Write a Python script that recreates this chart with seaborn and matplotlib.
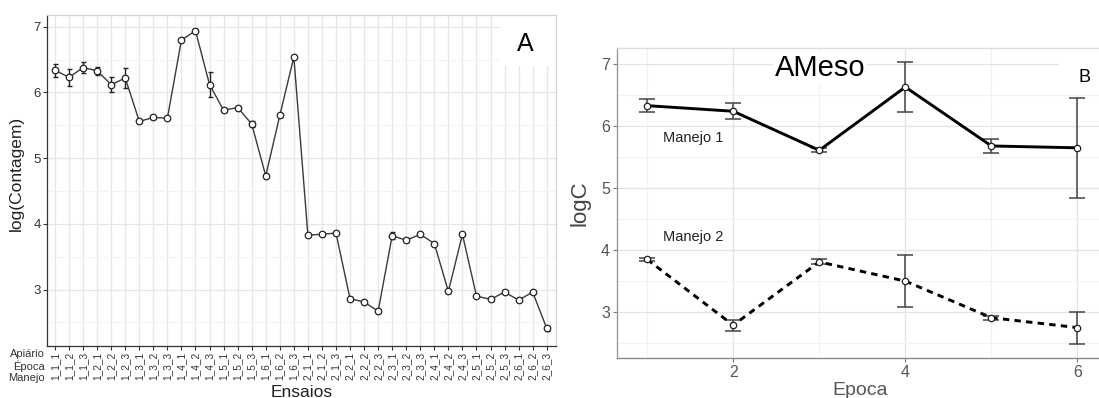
import numpy as np
import pandas as pd
import matplotlib
matplotlib.use("Agg")
import matplotlib.pyplot as plt
from matplotlib.patches import Rectangle
from matplotlib.ticker import MultipleLocator, FixedLocator
import seaborn as sns

# ---- Panel A: counts per trial (Apiário_Época_Manejo) ----
ensaios = [
    "1_1_1", "1_1_2", "1_1_3", "1_2_1", "1_2_2", "1_2_3",
    "1_3_1", "1_3_2", "1_3_3", "1_4_1", "1_4_2", "1_4_3",
    "1_5_1", "1_5_2", "1_5_3", "1_6_1", "1_6_2", "1_6_3",
    "2_1_1", "2_1_2", "2_1_3", "2_2_1", "2_2_2", "2_2_3",
    "2_3_1", "2_3_2", "2_3_3", "2_4_1", "2_4_2", "2_4_3",
    "2_5_1", "2_5_2", "2_5_3", "2_6_1", "2_6_2", "2_6_3",
]
log_contagem = [
    6.34, 6.23, 6.38, 6.33, 6.12, 6.22,
    5.56, 5.62, 5.61, 6.80, 6.94, 6.12,
    5.73, 5.77, 5.52, 4.73, 5.65, 6.54,
    3.83, 3.84, 3.86, 2.86, 2.81, 2.67,
    3.82, 3.75, 3.84, 3.70, 2.97, 3.84,
    2.90, 2.85, 2.96, 2.84, 2.96, 2.41,
]
erro_contagem = [
    0.10, 0.13, 0.09, 0.06, 0.12, 0.15,
    0.02, 0.02, 0.02, 0.02, 0.02, 0.19,
    0.02, 0.02, 0.04, 0.02, 0.03, 0.02,
    0.02, 0.02, 0.02, 0.02, 0.02, 0.02,
    0.05, 0.02, 0.02, 0.02, 0.02, 0.02,
    0.02, 0.02, 0.02, 0.02, 0.02, 0.04,
]

# ---- Panel B: AMeso means by Epoca and Manejo ----
epoca = [1, 2, 3, 4, 5, 6]
manejo1 = [6.32, 6.23, 5.60, 6.62, 5.67, 5.64]
manejo1_erro = [0.11, 0.13, 0.03, 0.40, 0.12, 0.81]
manejo2 = [3.84, 2.78, 3.80, 3.49, 2.90, 2.74]
manejo2_erro = [0.02, 0.09, 0.04, 0.42, 0.03, 0.26]

sns.set_theme(style="white")
plt.rcParams["font.family"] = ["Liberation Sans", "DejaVu Sans"]

fig = plt.figure(figsize=(10.99, 3.98), dpi=100)
W, H = 1099, 398

def px_axes(x0, y0, x1, y1):
    return fig.add_axes([x0 / W, 1 - y1 / H, (x1 - x0) / W, (y1 - y0) / H])

# ================= Panel A =================
axA = px_axes(47, 15, 556, 346)
dfA = pd.DataFrame({"pos": np.arange(len(ensaios)), "ensaio": ensaios,
                    "logc": log_contagem, "erro": erro_contagem})

axA.errorbar(dfA["pos"], dfA["logc"], yerr=dfA["erro"], fmt="none",
             ecolor="#222222", elinewidth=1.0, capsize=1.8, capthick=1.0, zorder=3)
sns.lineplot(data=dfA, x="pos", y="logc", ax=axA, color="#3a3a3a", linewidth=1.0,
             marker="o", markersize=4.7, markerfacecolor="white",
             markeredgecolor="#222222", markeredgewidth=0.9, zorder=4)

axA.set_xlim(-0.57, 35.66)
axA.set_ylim(2.14, 7.18)
axA.xaxis.set_major_locator(FixedLocator(dfA["pos"].tolist()))
axA.set_xticklabels(ensaios, rotation=90, fontsize=7.2, color="#333333")
axA.yaxis.set_major_locator(MultipleLocator(1))
axA.yaxis.set_minor_locator(MultipleLocator(0.5))
axA.tick_params(axis="y", labelsize=9.5, labelcolor="#333333", length=3,
                width=0.8, color="#333333", left=True, pad=1.5)
axA.tick_params(axis="x", length=3, width=0.8, color="#333333", bottom=True, pad=1.5)
axA.grid(True, which="major", color="#e6e6e6", linewidth=0.9)
axA.grid(True, which="minor", axis="y", color="#f3f3f3", linewidth=0.8)
axA.set_axisbelow(True)
for side in ("left", "bottom"):
    axA.spines[side].set_color("#333333")
    axA.spines[side].set_linewidth(0.9)
for side in ("top", "right"):
    axA.spines[side].set_color("#d4d4d4")
    axA.spines[side].set_linewidth(0.9)

axA.set_xlabel("Ensaios", fontsize=12.5, color="#222222")
axA.set_ylabel("log(Contagem)", fontsize=12.5, color="#222222")
axA.xaxis.set_label_coords(0.5, -0.117)
axA.yaxis.set_label_coords(-0.046, 0.52)

axA.add_patch(Rectangle((0.89, 0.845), 0.108, 0.153, transform=axA.transAxes,
                        facecolor="white", edgecolor="none", zorder=2.5))
axA.text(0.939, 0.912, "A", transform=axA.transAxes, fontsize=18,
         ha="center", va="center", color="black", zorder=5)

for txt, yy in (("Apiário", 354), ("Época", 365.8), ("Manejo", 377.6)):
    fig.text(45 / W, 1 - yy / H, txt, fontsize=8.0, ha="right", va="center",
             color="#333333")

# ================= Panel B =================
axB = px_axes(617, 48, 1099, 358)
dfB = pd.DataFrame({
    "Epoca": epoca * 2,
    "logC": manejo1 + manejo2,
    "erro": manejo1_erro + manejo2_erro,
    "Manejo": ["Manejo 1"] * len(epoca) + ["Manejo 2"] * len(epoca),
})

axB.errorbar(dfB["Epoca"], dfB["logC"], yerr=dfB["erro"], fmt="none",
             ecolor="#444444", elinewidth=1.1, capsize=6, capthick=1.1, zorder=3)
sns.lineplot(data=dfB, x="Epoca", y="logC", style="Manejo", ax=axB,
             color="black", linewidth=2.1,
             dashes={"Manejo 1": "", "Manejo 2": (2.2, 1.8)},
             markers={"Manejo 1": "o", "Manejo 2": "o"}, markersize=4.6,
             markerfacecolor="white", markeredgecolor="#222222",
             markeredgewidth=0.9, legend=False, zorder=4)

axB.set_xlim(0.65, 6.25)
axB.set_ylim(2.25, 7.25)
axB.xaxis.set_major_locator(MultipleLocator(2))
axB.xaxis.set_minor_locator(MultipleLocator(1))
axB.yaxis.set_major_locator(MultipleLocator(1))
axB.yaxis.set_minor_locator(MultipleLocator(0.5))
axB.tick_params(axis="both", which="major", labelsize=11.5, labelcolor="#555555",
                length=3, width=0.8, color="#777777", left=True, bottom=True, pad=2)
axB.tick_params(axis="both", which="minor", length=0)
axB.grid(True, which="major", color="#e3e3e3", linewidth=0.9)
axB.grid(True, which="minor", color="#f2f2f2", linewidth=0.8)
axB.set_axisbelow(True)
axB.spines["left"].set_color("#9a9a9a")
axB.spines["bottom"].set_color("#8a8a8a")
axB.spines["top"].set_color("#dddddd")
axB.spines["right"].set_visible(False)
for side in ("left", "bottom", "top"):
    axB.spines[side].set_linewidth(1.0)

axB.set_xlabel("Epoca", fontsize=14, color="#555555")
axB.set_ylabel("logC", fontsize=16, color="#444444")
axB.xaxis.set_label_coords(0.505, -0.078)
axB.yaxis.set_label_coords(-0.054, 0.5)

axB.text(3.01, 6.92, "AMeso", fontsize=21, ha="center", va="center", color="black",
         zorder=5, bbox=dict(facecolor="white", edgecolor="none", pad=1.5))
axB.add_patch(Rectangle((0.917, 0.85), 0.083, 0.15, transform=axB.transAxes,
                        facecolor="white", edgecolor="none", zorder=2.5))
axB.text(6.08, 6.78, "B", fontsize=13, ha="center", va="center", color="black", zorder=5)
axB.text(1.53, 5.80, "Manejo 1", fontsize=10.5, ha="center", va="center", color="#222222")
axB.text(1.53, 4.20, "Manejo 2", fontsize=10.5, ha="center", va="center", color="#222222")

fig.savefig("out.png", dpi=100)
